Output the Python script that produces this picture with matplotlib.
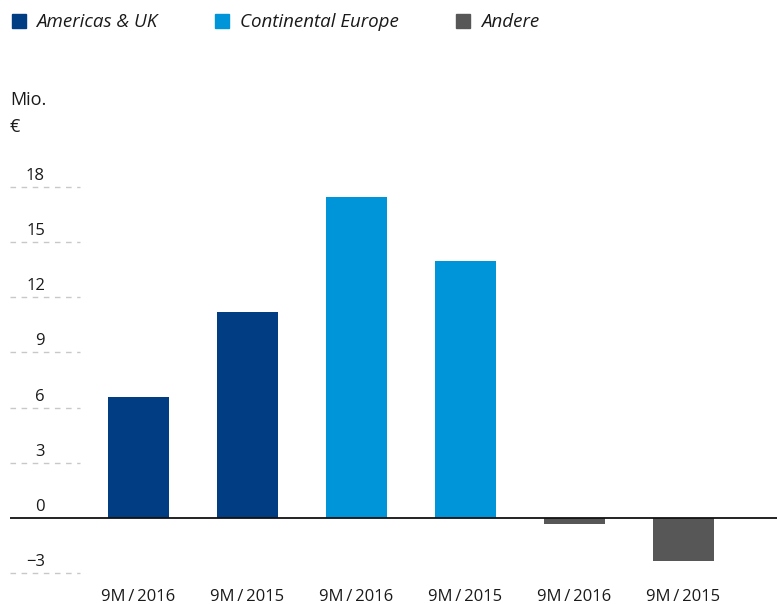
import matplotlib.pyplot as plt
from matplotlib.patches import Rectangle

plt.rcParams['font.family'] = ['Open Sans', 'DejaVu Sans']

# segment results in Mio. EUR
categories = ['9M\u2009/\u20092016', '9M\u2009/\u20092015', '9M\u2009/\u20092016',
              '9M\u2009/\u20092015', '9M\u2009/\u20092016', '9M\u2009/\u20092015']
values = [6.6, 11.2, 17.45, 13.95, -0.3, -2.35]
segments = ['Americas & UK', 'Americas & UK', 'Continental Europe', 'Continental Europe',
            'Andere', 'Andere']
seg_colors = {'Americas & UK': '#003D82', 'Continental Europe': '#0095D9', 'Andere': '#575757'}
yticks = [18, 15, 12, 9, 6, 3, 0, -3]

fig = plt.figure(figsize=(7.77, 6.04), dpi=100)
W, H = 777, 604
y0_px, px_per_unit = 518, 18.4
ymin, ymax = -3.4, 20
bottom_px = y0_px - ymin * px_per_unit
top_px = y0_px - ymax * px_per_unit
ax = fig.add_axes([10 / W, (H - bottom_px) / H, (W - 10) / W, (bottom_px - top_px) / H])

x0_px, step_px = 138.5, 109
xmin = (10 - x0_px) / step_px
xmax = (W - x0_px) / step_px
ax.set_xlim(xmin, xmax)
ax.set_ylim(ymin, ymax)
ax.axis('off')

xs = range(len(values))
ax.bar(xs, values, width=0.56, color=[seg_colors[s] for s in segments], zorder=2)

# short dashed guides with labels sitting above them
grid_end = (80 - x0_px) / step_px
label_x = (45 - x0_px) / step_px
for t in yticks:
    if t != 0:
        ax.hlines(t, xmin, grid_end, colors='#c8c8c8', linestyles=(0, (4, 4)), linewidth=1)
    ax.text(label_x, t + 11 / px_per_unit, f'{t}'.replace('-', '\u2212'), ha='right',
            va='center', fontsize=12, color='#1a1a1a')
ax.axhline(0, color='#111111', linewidth=1.3, zorder=3)

label_y = (y0_px - 597) / px_per_unit
for x, lab in zip(xs, categories):
    ax.text(x, label_y, lab, ha='center', va='center', fontsize=12,
            color='#1a1a1a', clip_on=False)

# unit label
fig.text(10 / W, 1 - 100 / H, 'Mio.', ha='left', va='center', fontsize=13, color='#1a1a1a')
fig.text(10 / W, 1 - 127 / H, '\u20ac', ha='left', va='center', fontsize=13, color='#1a1a1a')

# legend
for sx, tx, name in [(12, 36, 'Americas & UK'), (215, 240, 'Continental Europe'),
                     (456, 481, 'Andere')]:
    fig.patches.append(Rectangle((sx / W, 1 - 28 / H), 14 / W, 14 / H,
                                 transform=fig.transFigure, color=seg_colors[name]))
    fig.text(tx / W, 1 - 22 / H, name, ha='left', va='center', fontsize=13.5,
             style='italic', color='#1a1a1a')

fig.savefig('out.png', dpi=100)
